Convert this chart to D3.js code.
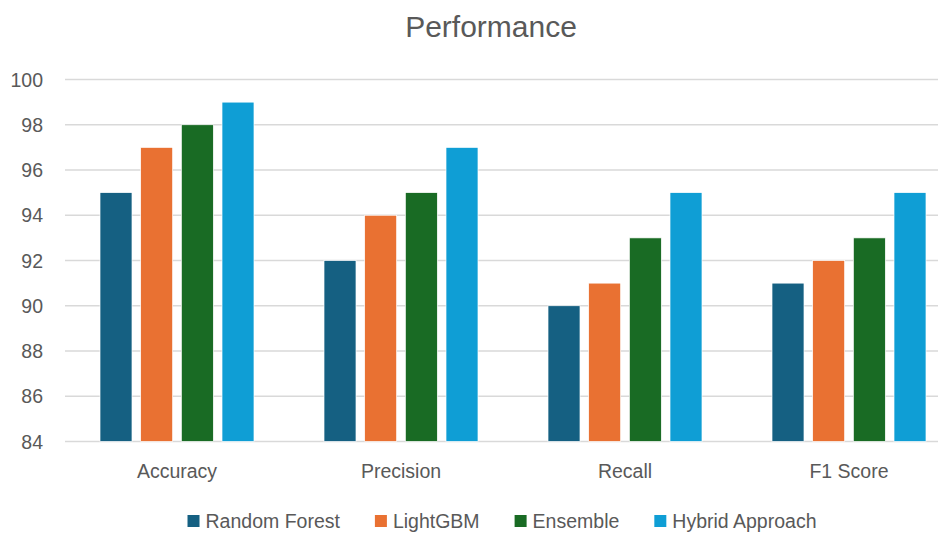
<!DOCTYPE html>
<html>
<head>
<meta charset="utf-8">
<script src="https://cdn.jsdelivr.net/npm/d3@7"></script>
<style>
  body { margin: 0; background: #fff; }
  text { font-family: "Liberation Sans", Arial, sans-serif; fill: #595959; }
</style>
</head>
<body>
<svg></svg>
<script>
const categories = ['Accuracy', 'Precision', 'Recall', 'F1 Score'];
const seriesNames = ['Random Forest', 'LightGBM', 'Ensemble', 'Hybrid Approach'];
const randomForest = [95, 92, 90, 91];
const lightGBM = [97, 94, 91, 92];
const ensemble = [98, 95, 93, 93];
const hybrid = [99, 97, 95, 95];
const yTicks = [84, 86, 88, 90, 92, 94, 96, 98, 100];
const colors = ['#156082', '#E97132', '#196B24', '#0F9ED5'];

const seriesValues = [randomForest, lightGBM, ensemble, hybrid];

let width = 938;
let height = 533;

let svg = d3.select('svg')
            .attr('width', width)
            .attr('height', height);

// plot area runs a bit past the right edge, like the source picture
let x0 = d3.scaleBand().domain(categories).range([65, 961]);
let x1 = d3.scaleBand().domain(seriesNames).range([35, 189]).paddingInner(0.213);
let y = d3.scaleLinear().domain([84, 100]).range([441.5, 79.5]);

// gridlines
svg.append('g')
    .selectAll('line')
    .data(yTicks)
    .enter().append('line')
    .attr('x1', 65)
    .attr('x2', 961)
    .attr('y1', d => y(d))
    .attr('y2', d => y(d))
    .attr('stroke', '#d9d9d9')
    .attr('stroke-width', 1.3);

// y tick labels
svg.append('g')
    .selectAll('text')
    .data(yTicks)
    .enter().append('text')
    .attr('x', 43)
    .attr('y', d => y(d))
    .attr('dy', '0.36em')
    .attr('text-anchor', 'end')
    .style('font-size', '19.5px')
    .text(d => d);

// bars
let groups = svg.append('g')
    .selectAll('g')
    .data(categories)
    .enter().append('g')
    .attr('transform', d => `translate(${x0(d)},0)`);

groups.selectAll('rect')
    .data((c, i) => seriesNames.map((s, j) => ({ s, j, v: seriesValues[j][i] })))
    .enter().append('rect')
    .attr('x', d => x1(d.s))
    .attr('width', x1.bandwidth())
    .attr('y', d => y(d.v))
    .attr('height', d => y(84) - y(d.v))
    .attr('fill', d => colors[d.j])
    .attr('stroke', '#fff')
    .attr('stroke-width', 0.7);

// category labels
svg.append('g')
    .selectAll('text')
    .data(categories)
    .enter().append('text')
    .attr('x', d => x0(d) + x0.bandwidth() / 2)
    .attr('y', 478)
    .attr('text-anchor', 'middle')
    .style('font-size', '19.5px')
    .text(d => d);

// title
svg.append('text')
    .attr('x', 491)
    .attr('y', 37)
    .attr('text-anchor', 'middle')
    .style('font-size', '30px')
    .text('Performance');

// legend
let legend = svg.append('g');
let lx = 0;
let gap = 35;
seriesNames.forEach((name, i) => {
    let item = legend.append('g').attr('transform', `translate(${lx},0)`);
    item.append('rect')
        .attr('x', 0)
        .attr('y', -6)
        .attr('width', 12)
        .attr('height', 12)
        .attr('fill', colors[i]);
    let t = item.append('text')
        .attr('x', 18)
        .attr('y', 0)
        .attr('dy', '0.36em')
        .style('font-size', '19.5px')
        .text(name);
    lx += 18 + t.node().getComputedTextLength() + gap;
});
lx -= gap;
legend.attr('transform', `translate(${502 - lx / 2},521)`);
</script>
</body>
</html>
